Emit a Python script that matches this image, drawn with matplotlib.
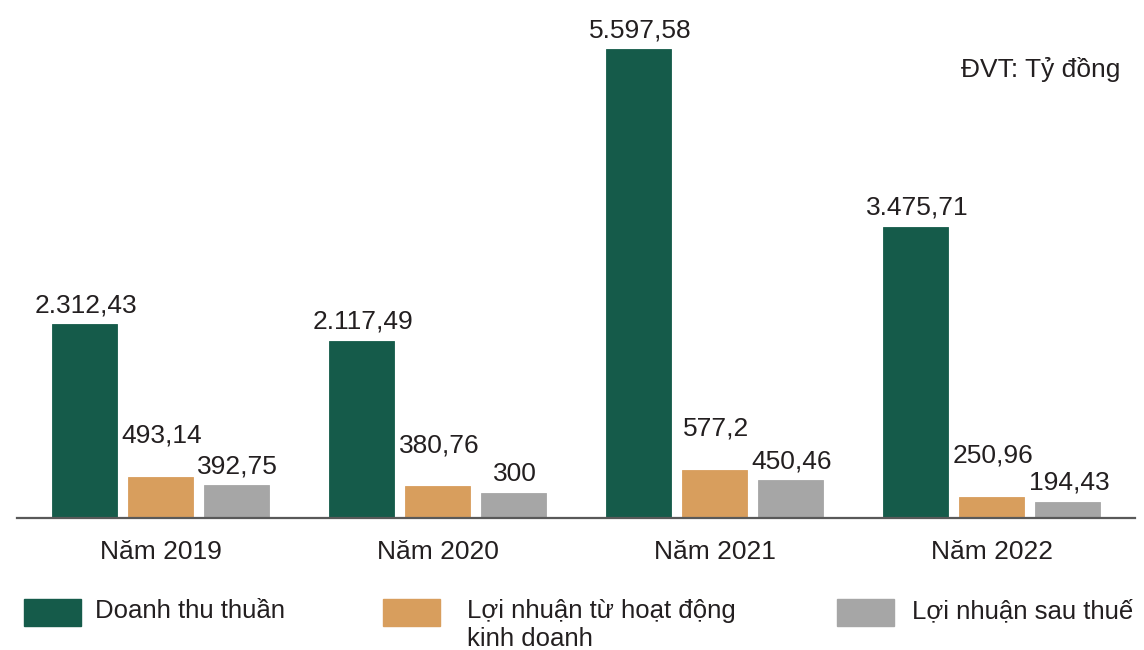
import matplotlib.pyplot as plt
from matplotlib.patches import Rectangle
import numpy as np

plt.rcParams['font.family'] = ['Liberation Sans', 'DejaVu Sans']

years = ["Năm 2019", "Năm 2020", "Năm 2021", "Năm 2022"]
doanh_thu = [2312.43, 2117.49, 5597.58, 3475.71]
ln_hdkd = [493.14, 380.76, 577.2, 250.96]
ln_sau_thue = [392.75, 300, 450.46, 194.43]
series_names = ["Doanh thu thuần", "Lợi nhuận từ hoạt động\nkinh doanh", "Lợi nhuận sau thuế"]
colors = ["#155B4A", "#D89E5D", "#A6A6A6"]
text_color = "#231F20"


def fmt_vn(v):
    # 2,312.43 -> 2.312,43
    s = f"{v:,}"
    return s.replace(",", "#").replace(".", ",").replace("#", ".")


fig = plt.figure(figsize=(11.44, 6.5), dpi=100)
ax = fig.add_axes([17 / 1144, 132 / 650, 1118 / 1144, 518 / 650])

x = np.arange(len(years))
width = 0.235
step = 0.2744
label_offsets = [13.5, 29.5, 13.5]  # points above bar top; orange labels sit higher
for i, (vals, c) in enumerate(zip([doanh_thu, ln_hdkd, ln_sau_thue], colors)):
    pos = x + (i - 1) * step
    ax.bar(pos, vals, width=width, color=c, edgecolor=c, linewidth=0.6, zorder=2)
    for px, v in zip(pos, vals):
        ax.annotate(fmt_vn(v), (px, v), xytext=(1, label_offsets[i]), textcoords="offset points",
                    ha="center", va="center", fontsize=19, color=text_color)

ax.set_xlim(-0.518, 3.518)
ax.set_ylim(0, 6181)
for side in ["top", "right", "left"]:
    ax.spines[side].set_visible(False)
ax.spines["bottom"].set_color("#595959")
ax.spines["bottom"].set_linewidth(1.6)
ax.spines["bottom"].set_zorder(3)
ax.set_yticks([])
ax.set_xticks(x)
ax.set_xticklabels(years, fontsize=19, color=text_color)
ax.tick_params(axis="x", length=0, pad=16)

fig.text(1120 / 1144, 1 - 70 / 650, "ĐVT: Tỷ đồng", ha="right", va="center",
         fontsize=19, color=text_color)

# legend drawn by hand
leg_x = [24, 383, 837]
txt_x = [95, 467, 912]
for lx, tx, name, c in zip(leg_x, txt_x, series_names, colors):
    fig.add_artist(Rectangle((lx / 1144, 1 - 626 / 650), 57 / 1144, 27 / 650,
                             transform=fig.transFigure, color=c))
    fig.text(tx / 1144, 1 - 599 / 650, name, ha="left", va="top", fontsize=18.5,
             color=text_color, linespacing=1.2)

fig.savefig("out.png", dpi=100)
